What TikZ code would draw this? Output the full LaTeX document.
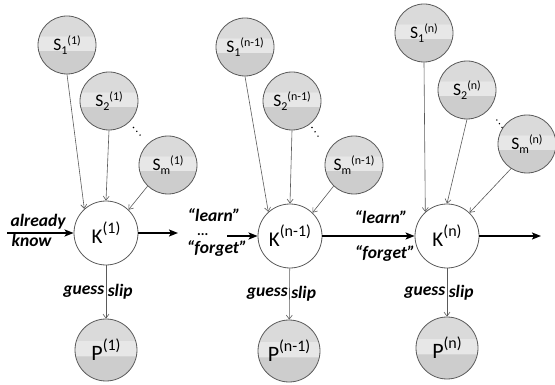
\documentclass[tikz,border=0pt]{standalone}
\usepackage{fontspec}
\setmainfont{Carlito}
\usetikzlibrary{arrows.meta}

\definecolor{ringgray}{HTML}{5A5A5A}
\definecolor{glassdark}{HTML}{CDCDCD}
\definecolor{glasslight}{HTML}{E7E7E7}
\definecolor{glasstop}{HTML}{DADADA}
\pgfdeclareverticalshading{glass}{100bp}{color(0bp)=(glassdark); color(45bp)=(glassdark);
  color(45.5bp)=(glasslight); color(57.5bp)=(glasslight); color(58bp)=(glasstop); color(100bp)=(glasstop)}

\newcommand\ssub[1]{\raisebox{-4pt}{\fontsize{12}{12}\selectfont#1}}
\newcommand\ssup[1]{\raisebox{6.5pt}{\fontsize{12}{12}\selectfont#1}}
\newcommand\ksup[1]{\raisebox{10pt}{\fontsize{16}{16}\selectfont#1}}

\tikzset{
  snode/.style={circle, draw=ringgray, line width=0.8pt, shading=glass, minimum size=58pt,
    inner sep=0pt, font=\fontsize{17.5}{18}\selectfont},
  knode/.style={circle, draw=ringgray, line width=0.8pt, fill=white, minimum size=64pt,
    inner sep=0pt, font=\fontsize{21}{21}\selectfont},
  pnode/.style={snode, minimum size=62pt, font=\fontsize{22}{22}\selectfont},
  link/.style={draw=ringgray, line width=0.6pt, -{Straight Barb[length=4pt,width=6pt]}},
  flow/.style={line width=1.6pt, -{Stealth[length=9pt,width=7pt,inset=2pt]}},
  lbl/.style={font=\fontsize{17.5}{18}\selectfont\bfseries\itshape, inner sep=1.5pt},
}

\begin{document}
\begin{tikzpicture}[x=1pt,y=-1pt]
	\useasboundingbox (0,0) rectangle (555,385);
	\node[snode] (s1a) at (67,45) {S\ssub{1}\ssup{(1)}};
	\node[snode] (s2a) at (109,101) {S\ssub{2}\ssup{(1)}};
	\node[snode] (sma) at (168,165) {S\ssub{m}\ssup{(1)}};
	\node[knode] (ka) at (106,233) {K\ksup{(1)}};
	\node[pnode] (pa) at (106,350) {P\ksup{(1)}};
	\node[snode] (s1b) at (245,47) {S\ssub{1}\ssup{(n-1)}};
	\node[snode] (s2b) at (292,101) {S\ssub{2}\ssup{(n-1)}};
	\node[snode] (smb) at (354,165) {S\ssub{m}\ssup{(n-1)}};
	\node[knode] (kb) at (290,236) {K\ksup{(n-1)}};
	\node[pnode] (pb) at (289,351) {P\ksup{(n-1)}};
	\node[snode] (s1c) at (424,33) {S\ssub{1}\ssup{(n)}};
	\node[snode] (s2c) at (467,90) {S\ssub{2}\ssup{(n)}};
	\node[snode] (smc) at (527,144) {S\ssub{m}\ssup{(n)}};
	\node[knode] (kc) at (447,236) {K\ksup{(n)}};
	\node[pnode] (pc) at (447,348) {P\ksup{(n)}};
	\foreach \g/\a in {a/226, b/226, c/237} {
		\draw[link] (s1\g.south) -- (k\g.132);
		\draw[link] (s2\g.south) -- (k\g.north);
		\draw[link] (sm\g.\a) -- (k\g.46);
		\draw[link] (k\g) -- node[lbl,left]{guess} node[lbl,right]{slip} (p\g);
	}
	\foreach \x/\y/\dx/\dy in {133.5/127.5/3.3/3.8, 312/127.5/3/4.3, 496.8/120/2.6/3.7}
		\foreach \k in {0,1,2}
			\fill (\x+\k*\dx,\y+\k*\dy) circle (0.8pt);
	\coordinate (enter) at (7,233);
	\coordinate (outa) at (178,233);
	\coordinate (inb) at (227,236);
	\coordinate (outc) at (541,236);
	\draw[flow] (enter) -- (ka);
	\draw[flow] (ka) -- (outa);
	\draw[flow] (inb) -- (kb);
	\draw[flow] (kb) -- (kc);
	\draw[flow] (kc) -- (outc);
	\node[lbl, anchor=base west] (already) at (9,227) {already};
	\node[lbl, anchor=base west] (know) at (10,247) {know};
	\node[lbl, anchor=base] (learna) at (214,222) {“learn”};
	\node[lbl, anchor=base, inner sep=0pt, font=\fontsize{14}{14}\selectfont\bfseries\itshape] (etc) at (203,236) {...};
	\node[lbl, anchor=base] (forgeta) at (217,254) {“forget”};
	\node[lbl, anchor=base] (learnb) at (381,224) {“learn”};
	\node[lbl, anchor=base] (forgetb) at (385,259) {“forget”};
\end{tikzpicture}
\end{document}
